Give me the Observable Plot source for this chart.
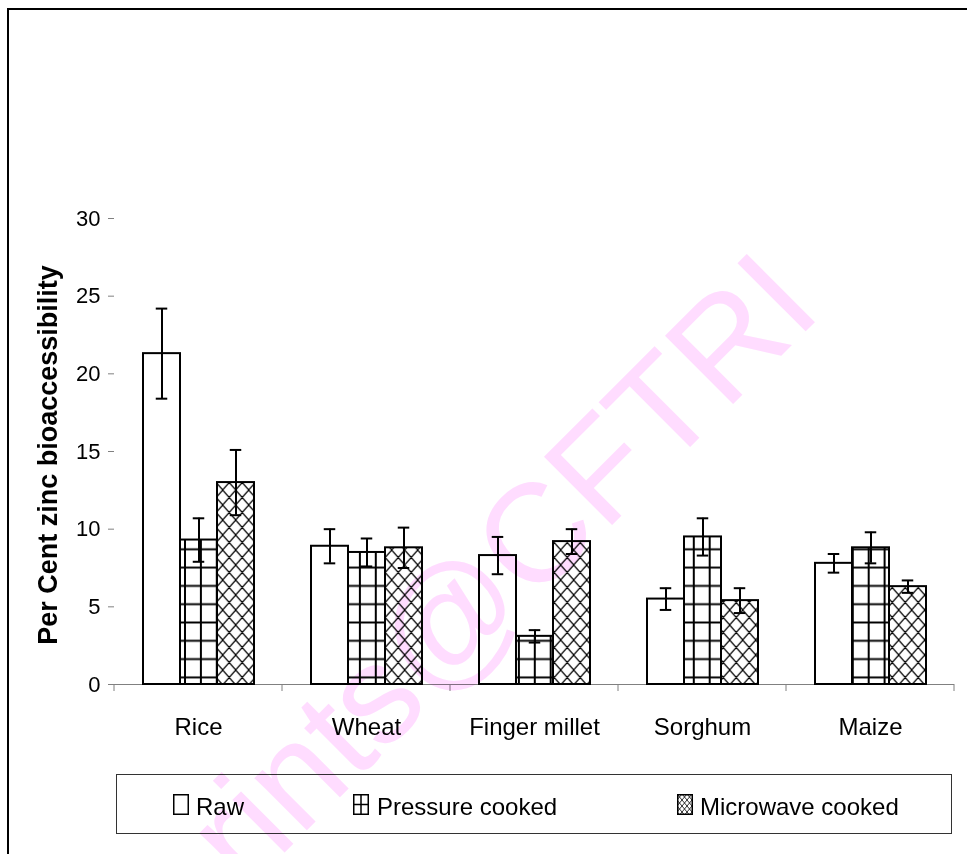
<!DOCTYPE html>
<html>
<head>
<meta charset="utf-8">
<script src="https://cdn.jsdelivr.net/npm/d3@7"></script>
<script src="https://cdn.jsdelivr.net/npm/@observablehq/plot@0.6"></script>
<style>
  html, body { margin: 0; padding: 0; background: #fff; width: 967px; height: 854px; overflow: hidden; }
  body { position: relative; font-family: Arial, "Liberation Sans", sans-serif; }
  #frame { position: absolute; left: 7px; top: 8px; width: 1000px; height: 900px; border: 2px solid #000; box-sizing: border-box; }
  #chart { position: absolute; left: 0; top: 0; }
  #legend { position: absolute; left: 116px; top: 774px; width: 836px; height: 60px; border: 1px solid #333; box-sizing: border-box; background: #fff; }
  #legend svg { position: absolute; left: 0; top: 0; }
  #wm { position: absolute; left: 0; top: 0; pointer-events: none; mix-blend-mode: multiply; }
</style>
</head>
<body>
<div id="frame"></div>
<div id="chart"></div>
<div id="legend"></div>
<script>
// ---- data ----
const categories = ["Rice", "Wheat", "Finger millet", "Sorghum", "Maize"];
const series = ["Raw", "Pressure cooked", "Microwave cooked"];
const rawValues = [21.3, 8.9, 8.3, 5.5, 7.8];
const rawErrors = [2.9, 1.1, 1.2, 0.7, 0.6];
const pressureValues = [9.3, 8.5, 3.1, 9.5, 8.8];
const pressureErrors = [1.4, 0.9, 0.4, 1.2, 1.0];
const microwaveValues = [13.0, 8.8, 9.2, 5.4, 6.3];
const microwaveErrors = [2.1, 1.3, 0.8, 0.8, 0.4];
const yTicks = [0, 5, 10, 15, 20, 25, 30];
const yTitle = "Per Cent zinc bioaccessibility";
const watermark = "eprints@CFTRI";

const valueSets = [rawValues, pressureValues, microwaveValues];
const errorSets = [rawErrors, pressureErrors, microwaveErrors];
const rows = [];
categories.forEach((c, i) => series.forEach((s, j) =>
  rows.push({category: c, series: s, value: valueSets[j][i], err: errorSets[j][i]})));

const FONT = "Arial, 'Liberation Sans', sans-serif";

const plot = Plot.plot({
  width: 967,
  height: 760,
  marginLeft: 114,
  marginRight: 13,
  marginTop: 218,
  marginBottom: 76,
  style: {fontFamily: FONT, color: "black", background: "transparent", overflow: "visible"},
  fx: {domain: categories, padding: 0},
  x: {domain: series, paddingInner: 0, paddingOuter: 0.74, axis: null},
  y: {domain: [0, 30]},
  color: {domain: series, range: ["white", "url(#gridPat)", "url(#crossPat)"]},
  marks: [
    Plot.ruleY([0], {stroke: "#808080", strokeWidth: 1}),
    Plot.barY(rows, {fx: "category", x: "series", y1: 0, y2: "value", fill: "series", stroke: "black", strokeWidth: 2}),
    Plot.ruleX(rows, {fx: "category", x: "series", y1: d => d.value - d.err, y2: d => d.value + d.err, stroke: "black", strokeWidth: 2}),
    Plot.tickY(rows, {fx: "category", x: "series", y: d => d.value + d.err, insetLeft: 12.75, insetRight: 12.75, stroke: "black", strokeWidth: 2}),
    Plot.tickY(rows, {fx: "category", x: "series", y: d => d.value - d.err, insetLeft: 12.75, insetRight: 12.75, stroke: "black", strokeWidth: 2}),
    Plot.axisY({ticks: yTicks, tickSize: 6, tickPadding: 8, fontSize: 22, label: null, line: true, stroke: "#808080", fill: "black", strokeOpacity: 1}),
    Plot.axisFx({anchor: "bottom", tickSize: 0, tickPadding: 33, fontSize: 24, label: null, fill: "black"})
  ]
});
document.getElementById("chart").appendChild(plot);

const svg = d3.select(plot);
const defs = svg.insert("defs", ":first-child");

// pattern builders (global phase, corrected per facet translation)
const GRID = {w: 15.9, h: 18.3, x: 185 - 15.9 / 2, y: 567.6 - 18.3 / 2};
const CROSS = {w: 13, h: 15, x: 222.7, y: 625};
function gridPattern(id, ox, oy) {
  const {w, h} = GRID;
  const p = defs.append("pattern").attr("id", id).attr("patternUnits", "userSpaceOnUse")
    .attr("x", ox).attr("y", oy).attr("width", w).attr("height", h);
  p.append("rect").attr("width", w).attr("height", h).attr("fill", "white");
  p.append("path").attr("d", `M${w / 2},0V${h}M0,${h / 2}H${w}`)
    .attr("stroke", "black").attr("stroke-width", 2).attr("fill", "none");
}
function crossPattern(id, ox, oy) {
  const {w, h} = CROSS;
  const p = defs.append("pattern").attr("id", id).attr("patternUnits", "userSpaceOnUse")
    .attr("x", ox).attr("y", oy).attr("width", w).attr("height", h);
  p.append("rect").attr("width", w).attr("height", h).attr("fill", "white");
  let d = "";
  for (let k = -1; k <= 2; k++) {
    d += `M${k * w - w},${-h}L${k * w + 2 * w},${2 * h}`;
    d += `M${k * w + w},${-h}L${k * w - 2 * w},${2 * h}`;
  }
  p.append("path").attr("d", d).attr("stroke", "black").attr("stroke-width", 1.2).attr("fill", "none");
}
gridPattern("gridPat", GRID.x, GRID.y);
crossPattern("crossPat", CROSS.x, CROSS.y);

const made = new Set();
svg.selectAll("rect").each(function() {
  const f = this.getAttribute("fill");
  if (!f || !f.startsWith("url(#")) return;
  const m = this.getCTM();
  const e = m ? m.e : 0, fy = m ? m.f : 0;
  if (f.includes("gridPat")) {
    const id = `gridPat_${Math.round(e)}_${Math.round(fy)}`;
    if (!made.has(id)) { gridPattern(id, GRID.x - e, GRID.y - fy); made.add(id); }
    this.setAttribute("fill", `url(#${id})`);
  } else if (f.includes("crossPat")) {
    const id = `crossPat_${Math.round(e)}_${Math.round(fy)}`;
    if (!made.has(id)) { crossPattern(id, CROSS.x - e, CROSS.y - fy); made.add(id); }
    this.setAttribute("fill", `url(#${id})`);
  }
});

// group-boundary ticks on the category axis, from the fx scale
const fx = plot.scale("fx");
const ys = plot.scale("y");
const y0 = ys.apply(0);
const bounds = categories.map(c => fx.apply(c)).concat([fx.apply(categories[categories.length - 1]) + fx.bandwidth]);
svg.append("g").selectAll("line").data(bounds).join("line")
  .attr("x1", d => d).attr("x2", d => d)
  .attr("y1", y0).attr("y2", y0 + 7)
  .attr("stroke", "#808080");

// y-axis title
svg.append("text")
  .attr("transform", `translate(57,455) rotate(-90)`)
  .attr("text-anchor", "middle")
  .attr("font-family", FONT)
  .attr("font-weight", "bold")
  .attr("font-size", 27)
  .attr("fill", "black")
  .text(yTitle);

// ---- legend ----
const leg = d3.select("#legend").append("svg").attr("width", 834).attr("height", 58);
const ldefs = leg.append("defs");
const lp = ldefs.append("pattern").attr("id", "legCross").attr("patternUnits", "userSpaceOnUse")
  .attr("width", 5).attr("height", 6);
lp.append("rect").attr("width", 5).attr("height", 6).attr("fill", "white");
lp.append("path").attr("d", "M-5,-6L10,12M10,-6L-5,12M0,-6L10,6M5,-6L-5,6M-5,0L5,12M10,0L0,12")
  .attr("stroke", "black").attr("stroke-width", 0.8);
const legendItems = [
  {label: series[0], sx: 56, tx: 79},
  {label: series[1], sx: 236, tx: 260},
  {label: series[2], sx: 560, tx: 583}
];
legendItems.forEach((it, i) => {
  const g = leg.append("g").attr("transform", `translate(${it.sx},19)`);
  if (i === 2) {
    g.append("rect").attr("x", 0.75).attr("y", 0.75).attr("width", 14.5).attr("height", 19.5).attr("fill", "url(#legCross)");
  }
  g.append("rect").attr("x", 0.75).attr("y", 0.75).attr("width", 14.5).attr("height", 19.5)
    .attr("fill", i === 2 ? "none" : "white").attr("stroke", "black").attr("stroke-width", 1.5);
  if (i === 1) {
    g.append("path").attr("d", "M8,0.75V20.25M0.75,10.5H15.25").attr("stroke", "black").attr("stroke-width", 1.5);
  }
  leg.append("text").attr("x", it.tx).attr("y", 40)
    .attr("font-family", FONT).attr("font-size", 24).attr("fill", "black")
    .text(it.label);
});

// ---- watermark ----
const wm = d3.select("body").append("svg").attr("id", "wm").attr("width", 967).attr("height", 854);
wm.append("text")
  .attr("transform", "translate(824,313) rotate(-45)")
  .attr("text-anchor", "end")
  .attr("font-family", FONT)
  .attr("font-size", 140)
  .attr("fill", "#ffdcff")
  .text(watermark);
</script>
</body>
</html>
